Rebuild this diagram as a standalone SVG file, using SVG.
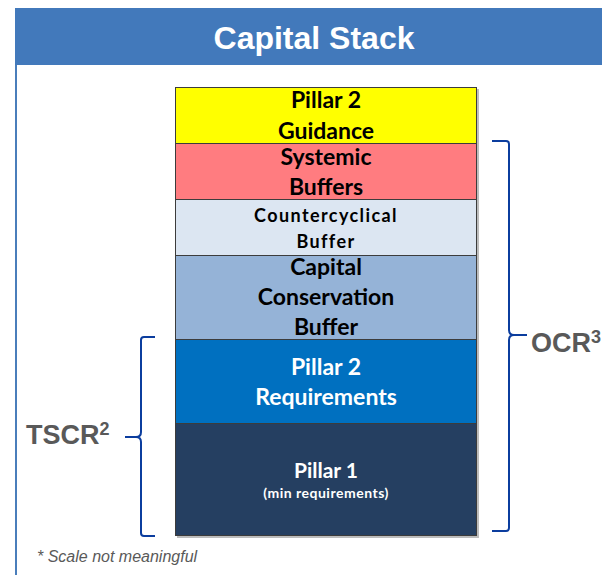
<svg xmlns="http://www.w3.org/2000/svg" width="602" height="575" viewBox="0 0 602 575">
<style>
.lbl{font-family:Lato,"Liberation Sans",sans-serif;font-weight:bold;text-anchor:middle}
.blk{fill:#000}
.wht{fill:#fff}
.row{stroke:#3c3c3c;stroke-width:1}
.brace{fill:none;stroke:#0b3d9e;stroke-width:2;stroke-linejoin:round}
.side{font-family:"Liberation Sans",Arial,sans-serif;font-weight:bold;fill:#595959;font-size:27px}
</style>
<rect x="0" y="0" width="602" height="575" fill="#fff"/>
<g id="frame">
<rect x="15" y="8" width="587" height="57" fill="#4279bb"/>
<rect x="15" y="65" width="2" height="510" fill="#4a7ebb"/>
<text x="314" y="49" font-family="'Liberation Sans',Arial,sans-serif" font-weight="bold" font-size="32" fill="#fff" text-anchor="middle">Capital Stack</text>
</g>
<g id="stack-shadow">
<rect x="177" y="89" width="302" height="449" fill="#bdbdbd"/>
</g>
<g id="pillar2-guidance">
<rect class="row" x="175.5" y="87.5" width="301" height="56" fill="#ffff00"/>
<text class="lbl blk" x="326" y="108" font-size="23">Pillar 2</text>
<text class="lbl blk" x="326" y="139" font-size="23">Guidance</text>
</g>
<g id="systemic-buffers">
<rect class="row" x="175.5" y="143.5" width="301" height="56" fill="#ff7c80"/>
<text class="lbl blk" x="326" y="165" font-size="23">Systemic</text>
<text class="lbl blk" x="326" y="195" font-size="23">Buffers</text>
</g>
<g id="countercyclical-buffer">
<rect class="row" x="175.5" y="199.5" width="301" height="56" fill="#dce6f2"/>
<text class="lbl blk" x="326" y="222" font-size="18" letter-spacing="1.4">Countercyclical</text>
<text class="lbl blk" x="326" y="248" font-size="18" letter-spacing="1.4">Buffer</text>
</g>
<g id="capital-conservation-buffer">
<rect class="row" x="175.5" y="255.5" width="301" height="84" fill="#95b3d7"/>
<text class="lbl blk" x="326" y="275" font-size="23">Capital</text>
<text class="lbl blk" x="326" y="305" font-size="23">Conservation</text>
<text class="lbl blk" x="326" y="335" font-size="23">Buffer</text>
</g>
<g id="pillar2-requirements">
<rect class="row" x="175.5" y="339.5" width="301" height="84" fill="#0070c0"/>
<text class="lbl wht" x="326" y="375" font-size="23">Pillar 2</text>
<text class="lbl wht" x="326" y="405" font-size="23">Requirements</text>
</g>
<g id="pillar1">
<rect class="row" x="175.5" y="423.5" width="301" height="112" fill="#253f61"/>
<text class="lbl wht" x="326" y="478" font-size="21">Pillar 1</text>
<text class="lbl wht" x="326" y="498" font-size="14" letter-spacing="0.5">(min requirements)</text>
</g>
<g id="connectors">
<path class="brace" d="M155,337 H144 Q141,337 141,340 V432 Q141,437 136,437 H125 M136,437 Q141,437 141,442 V533 Q141,536 144,536 H155"/>
<path class="brace" d="M492,141 H506 Q509,141 509,144 V330 Q509,335 514,335 H527 M514,335 Q509,335 509,340 V528 Q509,531 506,531 H492"/>
</g>
<g id="tscr">
<text class="side" x="26" y="444">TSCR<tspan font-size="18" dy="-9">2</tspan></text>
</g>
<g id="ocr">
<text class="side" x="531" y="352">OCR<tspan font-size="18" dy="-9">3</tspan></text>
</g>
<g id="footnote">
<text x="37" y="562" font-family="'Liberation Sans',Arial,sans-serif" font-style="italic" font-size="16" fill="#595959">* Scale not meaningful</text>
</g>
</svg>
